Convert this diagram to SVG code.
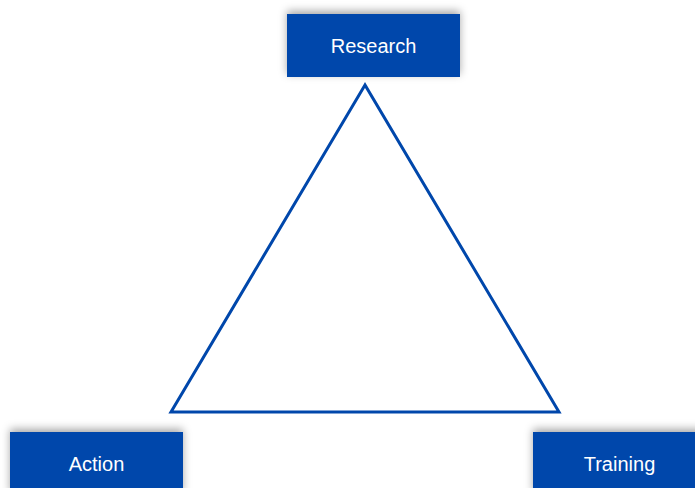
<svg xmlns="http://www.w3.org/2000/svg" width="695" height="488" viewBox="0 0 695 488">
  <defs>
    <filter id="soft" x="-20%" y="-40%" width="140%" height="180%">
      <feDropShadow dx="0" dy="-3" stdDeviation="4" flood-color="#000" flood-opacity="0.35"/>
    </filter>
  </defs>
  <style>
    .box { fill: #0047AB; filter: url(#soft); }
    .label { fill: #ffffff; font-family: "Liberation Sans", Arial, sans-serif; font-size: 20px; text-anchor: middle; }
    .edge { fill: none; stroke: #0047AB; stroke-width: 3; stroke-linejoin: miter; }
  </style>
  <rect width="695" height="488" fill="#ffffff"/>

  <g id="connectors">
    <polygon class="edge" points="365,85 171,412 559,412"/>
  </g>

  <g id="research">
    <rect class="box" x="287" y="14" width="173" height="63"/>
    <text class="label" x="373.5" y="53">Research</text>
  </g>

  <g id="action">
    <rect class="box" x="10" y="432" width="173" height="63"/>
    <text class="label" x="96.5" y="471">Action</text>
  </g>

  <g id="training">
    <rect class="box" x="533" y="432" width="173" height="63"/>
    <text class="label" x="619.5" y="471">Training</text>
  </g>
</svg>
